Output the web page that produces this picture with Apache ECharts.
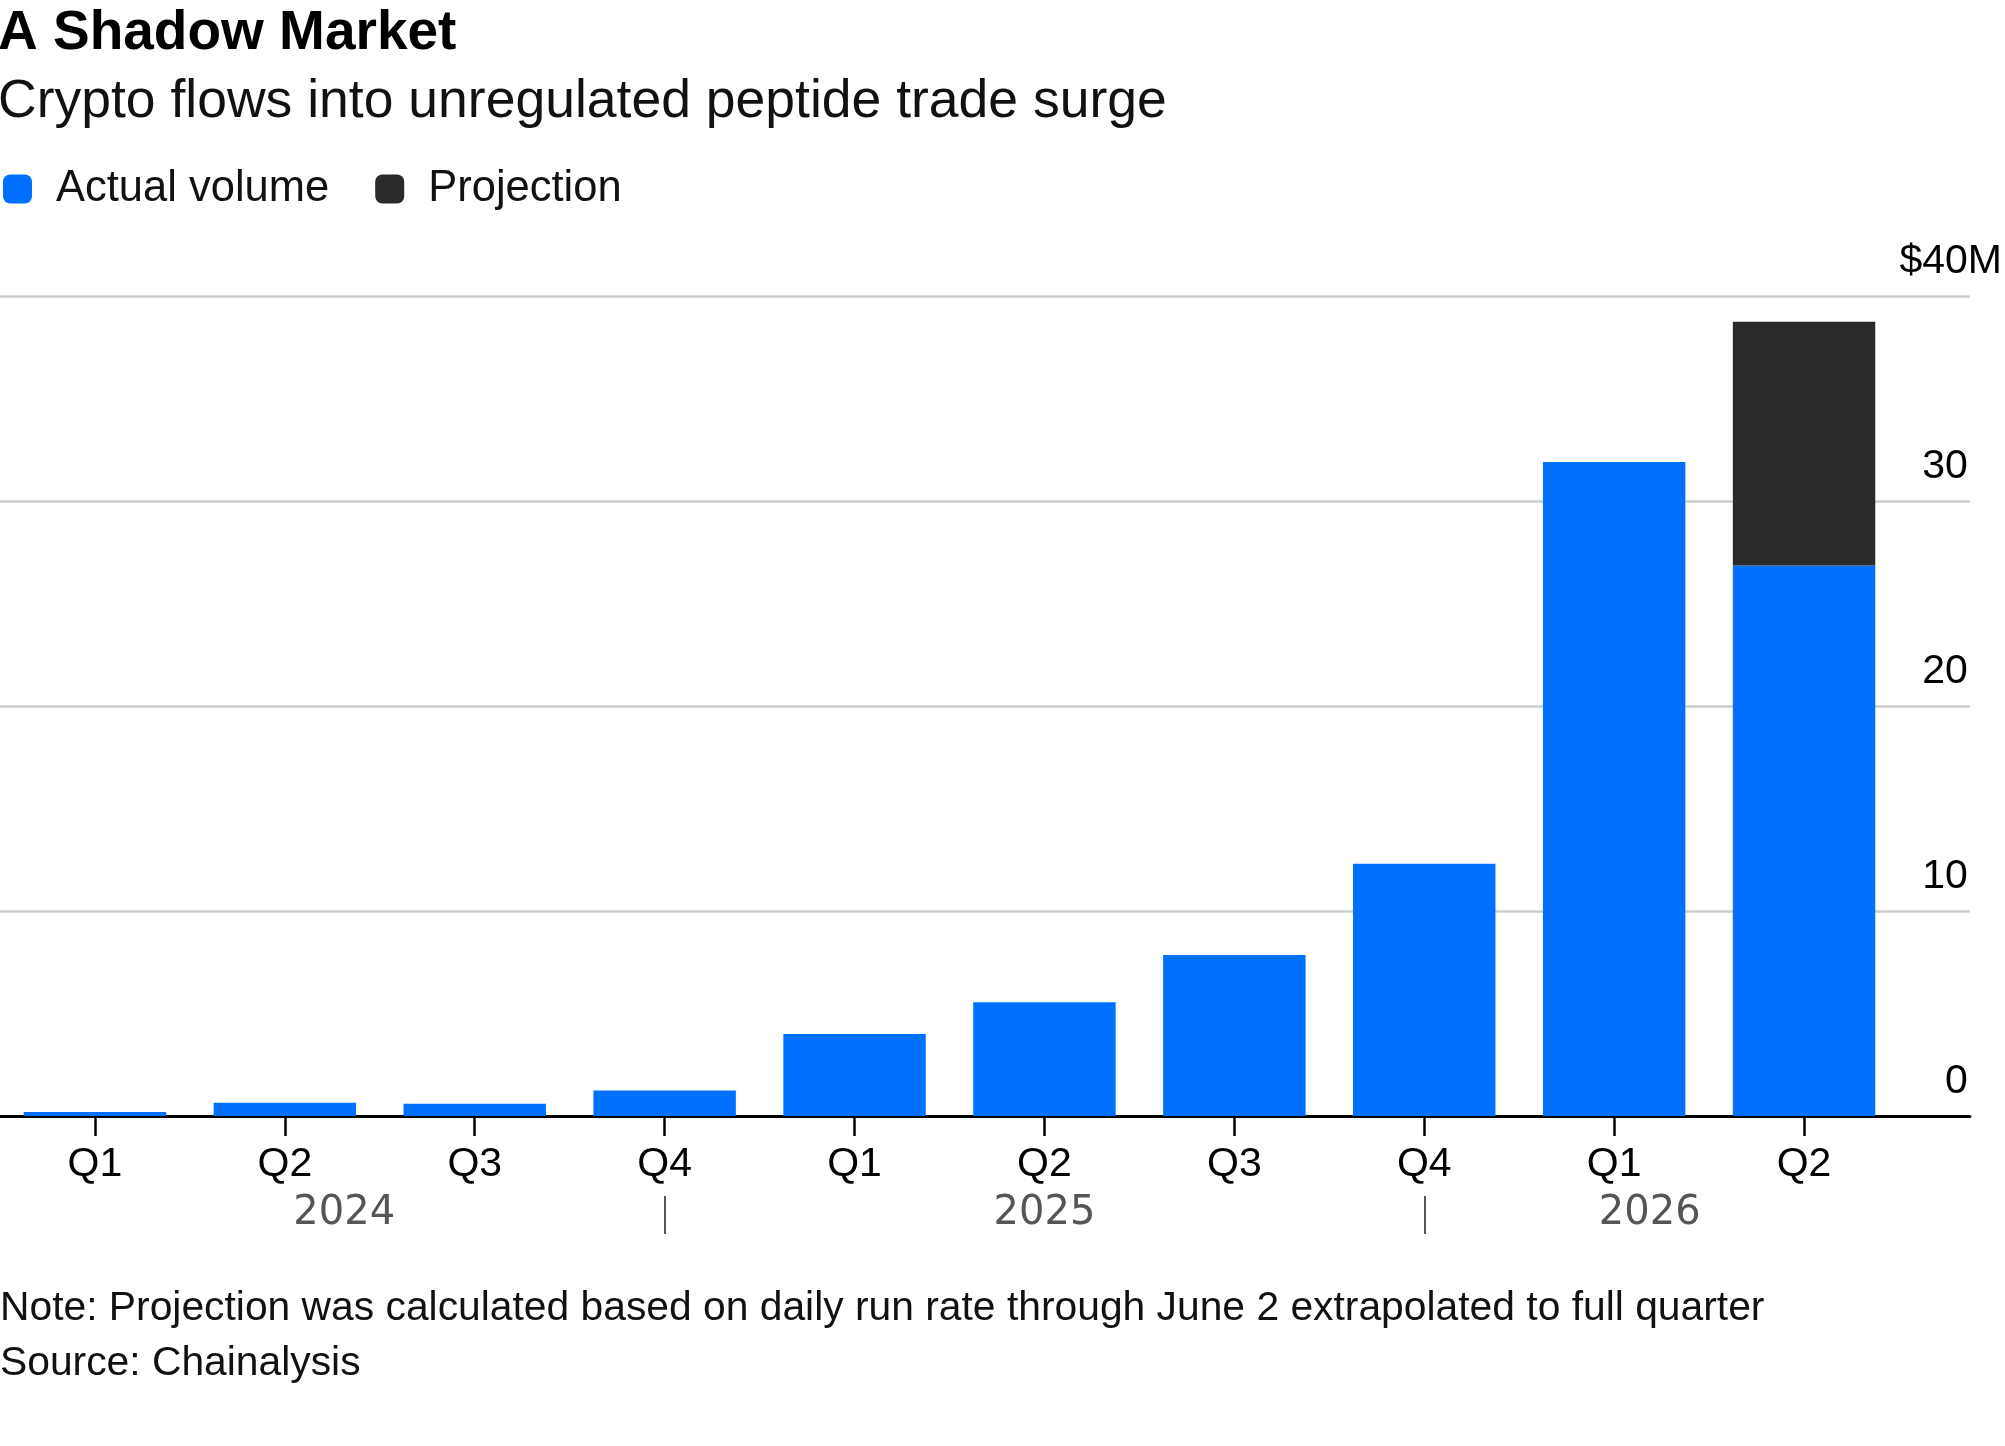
<!DOCTYPE html>
<html>
<head>
<meta charset="utf-8">
<title>A Shadow Market</title>
<script src="https://cdn.jsdelivr.net/npm/echarts@6/dist/echarts.min.js"></script>
<style>
html, body { margin: 0; padding: 0; background: #fff; }
#chart { width: 2005px; height: 1446px; }
</style>
</head>
<body>
<div id="chart"></div>
<script>
// quarters on the axis and the year each one belongs to
var quarters = ['Q1', 'Q2', 'Q3', 'Q4', 'Q1', 'Q2', 'Q3', 'Q4', 'Q1', 'Q2'];
var quarterYears = ['2024', '2024', '2024', '2024', '2025', '2025', '2025', '2025', '2026', '2026'];
var years = ['2024', '2025', '2026'];

// crypto volume, $M
var actualVolume = [0.2, 0.65, 0.6, 1.25, 4.0, 5.55, 7.85, 12.3, 31.9, 26.85];
var projection = [null, null, null, null, null, null, null, null, null, 11.9];

var yMin = 0, yMax = 40, yStep = 10;

var BLUE = '#0070ff';
var DARK = '#2a2a2a';
var FONT = '"Liberation Sans", Arial, Helvetica, sans-serif';
var BAR_FRAC = 0.75;

// year separators sit on the last quarter of each year (except the final one),
// year names are centred between them
var separators = [];
var yearCenters = [];
var yearAt = {};
years.forEach(function (y, k) {
    var last = quarterYears.lastIndexOf(y);
    if (k < years.length - 1) separators.push(last);
});
years.forEach(function (y, k) {
    var first = quarterYears.indexOf(y);
    var last = quarterYears.lastIndexOf(y);
    var start = k === 0 ? first - BAR_FRAC / 2 : separators[k - 1];
    var end = k === years.length - 1 ? last + BAR_FRAC / 2 : last;
    var c = (start + end) / 2;
    yearCenters.push(c);
    yearAt[c] = y;
});

var myChart = echarts.init(document.getElementById('chart'));
myChart.setOption({
    animation: false,
    textStyle: { fontFamily: FONT },
    title: [
        {
            text: 'A Shadow Market',
            subtext: 'Crypto flows into unregulated peptide trade surge',
            left: -2,
            top: 6,
            padding: 0,
            itemGap: 14,
            textStyle: { fontSize: 55, fontWeight: 'bold', color: '#000', fontFamily: FONT },
            subtextStyle: { fontSize: 53.5, color: '#111', fontFamily: FONT }
        },
        {
            text: 'Note: Projection was calculated based on daily run rate through June 2 extrapolated to full quarter',
            left: 0,
            top: 1288,
            padding: 0,
            textStyle: { fontSize: 40.8, fontWeight: 'normal', color: '#111', fontFamily: FONT }
        },
        {
            text: 'Source: Chainalysis',
            left: 0,
            top: 1343,
            padding: 0,
            textStyle: { fontSize: 40.8, fontWeight: 'normal', color: '#111', fontFamily: FONT }
        }
    ],
    legend: {
        left: 3,
        top: 167,
        padding: 0,
        icon: 'roundRect',
        itemWidth: 29,
        itemHeight: 29,
        itemGap: 46,
        textStyle: { fontSize: 43.5, color: '#111', padding: [0, 0, 0, 19] },
        data: ['Actual volume', 'Projection']
    },
    grid: [
        // full width: gridlines, baseline, value labels
        { left: 0, right: 35, top: 296, bottom: 330 },
        // the bars
        { left: -4, right: 106, top: 296, bottom: 330 }
    ],
    xAxis: [
        {
            gridIndex: 0,
            type: 'value',
            min: 0,
            max: 1,
            axisLine: { show: true, lineStyle: { color: '#000', width: 3 } },
            axisTick: { show: false },
            axisLabel: { show: false },
            splitLine: { show: false }
        },
        {
            gridIndex: 1,
            type: 'category',
            data: quarters,
            axisLine: { show: false },
            axisTick: { show: true, alignWithLabel: true, length: 20, lineStyle: { color: '#000', width: 2.5 } },
            axisLabel: { fontSize: 41, color: '#000', margin: 28, fontFamily: FONT }
        },
        {
            gridIndex: 1,
            type: 'value',
            position: 'bottom',
            offset: 80,
            min: -0.5,
            max: 9.5,
            axisLine: { show: false },
            splitLine: { show: false },
            axisTick: { show: true, customValues: separators, length: 38, lineStyle: { color: '#555', width: 2 } },
            axisLabel: {
                customValues: yearCenters,
                fontSize: 40,
                color: '#555',
                margin: 18,
                verticalAlign: 'middle',
                fontFamily: '"DejaVu Sans", sans-serif',
                formatter: function (v) { return yearAt[v] || ''; }
            }
        }
    ],
    yAxis: [
        {
            gridIndex: 0,
            type: 'value',
            position: 'right',
            min: yMin,
            max: yMax,
            interval: yStep,
            axisLine: { show: false },
            axisTick: { show: false },
            splitLine: { lineStyle: { color: '#cccccc', width: 2.5 } },
            axisLabel: {
                inside: true,
                align: 'right',
                verticalAlign: 'bottom',
                margin: 2,
                padding: [0, 0, 14, 0],
                color: '#000',
                formatter: function (v) {
                    return v === yMax ? '{n|$' + v + '}{m|M}' : '{n|' + v + '}';
                },
                rich: {
                    n: { fontSize: 41, color: '#000', fontFamily: FONT, align: 'left' },
                    m: { fontSize: 41, color: '#000', fontFamily: FONT, align: 'left', width: 0 }
                }
            }
        },
        {
            gridIndex: 1,
            type: 'value',
            min: yMin,
            max: yMax,
            interval: yStep,
            show: false
        }
    ],
    series: [
        {
            name: 'Actual volume',
            type: 'bar',
            xAxisIndex: 1,
            yAxisIndex: 1,
            stack: 'total',
            barWidth: BAR_FRAC * 100 + '%',
            itemStyle: { color: BLUE },
            data: actualVolume
        },
        {
            name: 'Projection',
            type: 'bar',
            xAxisIndex: 1,
            yAxisIndex: 1,
            stack: 'total',
            barWidth: BAR_FRAC * 100 + '%',
            itemStyle: { color: DARK },
            data: projection
        }
    ]
});
</script>
</body>
</html>
